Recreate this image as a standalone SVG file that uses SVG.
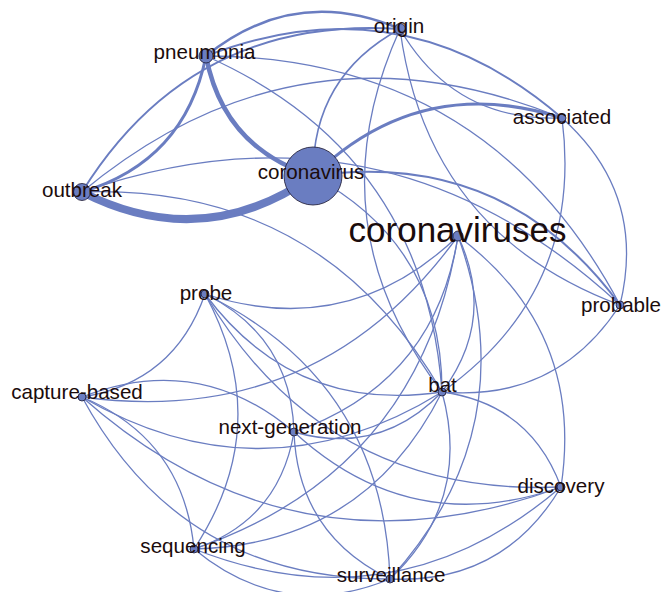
<svg xmlns="http://www.w3.org/2000/svg" width="665" height="592" viewBox="0 0 665 592">
<style>
.e{fill:none;stroke:#6a7dc1;stroke-width:1.3}
.n{fill:#6a7dc1;stroke:#1a1630;stroke-width:0.8}
.t{font-family:"Liberation Sans",Arial,sans-serif;font-size:20.6px;fill:#1b0c0c;text-anchor:middle}
</style>
<rect width="665" height="592" fill="#ffffff"/>
<g id="edges">
<path class="e" style="stroke-width:4.5" d="M313,176 Q223.5,148.1 206,56"/>
<path class="e" style="stroke-width:8" d="M313,176 Q202.3,253.3 82,192"/>
<path class="e" style="stroke-width:1.6" d="M313,176 Q312.4,76.4 400,29"/>
<path class="e" style="stroke-width:3" d="M313,176 Q420.1,72.3 562,118"/>
<path class="e" style="stroke-width:2" d="M313,176 Q505.2,148.4 620,305"/>
<path class="e" d="M313,176 Q442.3,245.3 442,392"/>
<path class="e" style="stroke-width:3" d="M206,56 Q184.8,161.2 82,192"/>
<path class="e" style="stroke-width:2.5" d="M206,56 Q294.9,-15.7 400,29"/>
<path class="e" style="stroke-width:2" d="M206,56 Q402.6,-19.8 562,118"/>
<path class="e" d="M206,56 Q487.7,56.3 620,305"/>
<path class="e" d="M206,56 Q424.8,153.2 442,392"/>
<path class="e" style="stroke-width:2" d="M82,192 Q192.1,15.1 400,29"/>
<path class="e" d="M82,192 Q299.8,11 562,118"/>
<path class="e" d="M82,192 Q384.9,87.1 620,305"/>
<path class="e" d="M82,192 Q322,184 442,392"/>
<path class="e" d="M562,118 Q454.3,122.1 400,29"/>
<path class="e" d="M620,305 Q427.2,233 400,29"/>
<path class="e" d="M442,392 Q312.1,223.1 400,29"/>
<path class="e" d="M562,118 Q647.1,194.1 620,305"/>
<path class="e" d="M562,118 Q584.2,291 442,392"/>
<path class="e" d="M620,305 Q557.1,401.9 442,392"/>
<path class="e" d="M458,236 Q496.8,318.8 442,392"/>
<path class="e" d="M458,236 Q348.9,340.9 205,294"/>
<path class="e" d="M458,236 Q318.3,429.3 82,397"/>
<path class="e" d="M458,236 Q434.8,383.2 294,432"/>
<path class="e" d="M458,236 Q584.8,330.6 561,487"/>
<path class="e" d="M458,236 Q419.9,471.7 194,549"/>
<path class="e" d="M458,236 Q526.9,427.9 390,579"/>
<path class="e" d="M442,392 Q294.1,414.1 205,294"/>
<path class="e" d="M442,392 Q263.5,502.5 82,397"/>
<path class="e" d="M442,392 Q380,456.4 294,432"/>
<path class="e" d="M442,392 Q530,403.8 561,487"/>
<path class="e" d="M442,392 Q365.1,544.9 194,549"/>
<path class="e" d="M442,392 Q472.1,501.1 390,579"/>
<path class="e" d="M561,487 Q325.1,497.3 205,294"/>
<path class="e" d="M561,487 Q294.5,585.7 82,397"/>
<path class="e" d="M561,487 Q411,539.6 294,432"/>
<path class="e" d="M561,487 Q396.1,628.1 194,549"/>
<path class="e" d="M561,487 Q503.1,584.3 390,579"/>
<path class="e" d="M205,294 Q174.4,382.4 82,397"/>
<path class="e" d="M205,294 Q290.9,336.3 294,432"/>
<path class="e" d="M205,294 Q276,424.8 194,549"/>
<path class="e" d="M205,294 Q383,381 390,579"/>
<path class="e" d="M390,579 Q181.4,580.4 82,397"/>
<path class="e" d="M390,579 Q297.9,534.3 294,432"/>
<path class="e" d="M390,579 Q283,622.8 194,549"/>
<path class="e" d="M82,397 Q198.5,350.9 294,432"/>
<path class="e" d="M82,397 Q183.6,439.4 194,549"/>
<path class="e" d="M294,432 Q279.1,520.5 194,549"/>
</g>
<g id="node-coronavirus"><circle class="n" cx="313" cy="176" r="29"/><text class="t" x="311" y="178.5">coronavirus</text></g>
<g id="node-pneumonia"><circle class="n" cx="206" cy="56" r="7"/><text class="t" x="204.5" y="59">pneumonia</text></g>
<g id="node-outbreak"><circle class="n" cx="82" cy="192" r="8.5"/><text class="t" x="82" y="197">outbreak</text></g>
<g id="node-origin"><circle class="n" cx="400" cy="29" r="5.5"/><text class="t" x="399" y="32.5">origin</text></g>
<g id="node-associated"><circle class="n" cx="562" cy="118" r="4"/><text class="t" x="562" y="124">associated</text></g>
<g id="node-probable"><circle class="n" cx="620" cy="305" r="4"/><text class="t" x="621" y="312">probable</text></g>
<g id="node-bat"><circle class="n" cx="442" cy="392" r="4"/><text class="t" x="442.5" y="392">bat</text></g>
<g id="node-coronaviruses"><circle class="n" cx="458" cy="236" r="5"/><text class="t" style="font-size:35px" x="457.5" y="242">coronaviruses</text></g>
<g id="node-probe"><circle class="n" cx="205" cy="294" r="4"/><text class="t" x="206" y="300">probe</text></g>
<g id="node-capture-based"><circle class="n" cx="82" cy="397" r="4"/><text class="t" x="77" y="399">capture-based</text></g>
<g id="node-next-generation"><circle class="n" cx="294" cy="432" r="4"/><text class="t" x="290" y="434">next-generation</text></g>
<g id="node-discovery"><circle class="n" cx="561" cy="487" r="4"/><text class="t" x="561" y="493">discovery</text></g>
<g id="node-sequencing"><circle class="n" cx="194" cy="549" r="4"/><text class="t" x="193" y="552.5">sequencing</text></g>
<g id="node-surveillance"><circle class="n" cx="390" cy="579" r="4"/><text class="t" x="391" y="582">surveillance</text></g>
</svg>
